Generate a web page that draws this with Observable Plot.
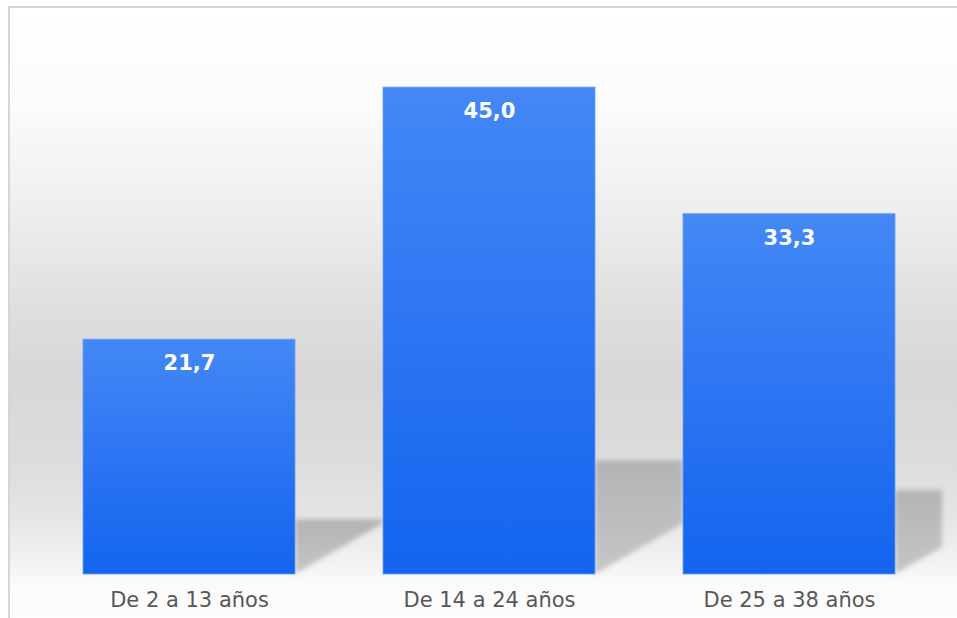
<!DOCTYPE html>
<html>
<head>
<meta charset="utf-8">
<script src="https://cdn.jsdelivr.net/npm/d3@7"></script>
<script src="https://cdn.jsdelivr.net/npm/@observablehq/plot@0.6"></script>
<style>
  html, body { margin: 0; padding: 0; width: 957px; height: 618px; overflow: hidden; background: #ffffff; }
  #frame {
    position: absolute; left: 8px; top: 6px; right: 0; bottom: 0;
    border-top: 2px solid #d6d6d6; border-left: 2px solid #d6d6d6;
    background: linear-gradient(to bottom, #ffffff 0%, #fbfbfb 16%, #efefef 32%, #e0e0e0 48%, #d7d7d7 60%, #dcdcdc 74%, #e4e4e4 83%, #f1f1f1 90%, #fbfbfb 95%, #fdfdfd 100%);
  }
  #chart { position: absolute; left: 0; top: 0; }
  #chart svg { background: transparent; }
</style>
</head>
<body>
<div id="frame"></div>
<div id="chart"></div>
<script>
const categories = ["De 2 a 13 años", "De 14 a 24 años", "De 25 a 38 años"];
const values = [21.7, 45.0, 33.3];
const valueLabels = ["21,7", "45,0", "33,3"];

const data = categories.map((c, i) => ({category: c, value: values[i], label: valueLabels[i]}));

const SVGNS = "http://www.w3.org/2000/svg";
function el(name, attrs) {
  const e = document.createElementNS(SVGNS, name);
  for (const k in attrs) e.setAttribute(k, attrs[k]);
  return e;
}

// gradient / filter definitions
function defsMark() {
  const g = el("g", {});
  const defs = el("defs", {});
  const bar = el("linearGradient", {id: "barGrad", x1: 0, y1: 0, x2: 0, y2: 1});
  bar.appendChild(el("stop", {offset: "0%", "stop-color": "#4488f5"}));
  bar.appendChild(el("stop", {offset: "55%", "stop-color": "#2a73f2"}));
  bar.appendChild(el("stop", {offset: "100%", "stop-color": "#1364ef"}));
  defs.appendChild(bar);
  const sh = el("linearGradient", {id: "shadowGrad", x1: 0, y1: 0, x2: 0, y2: 1});
  sh.appendChild(el("stop", {offset: "0%", "stop-color": "#b3b3b3"}));
  sh.appendChild(el("stop", {offset: "100%", "stop-color": "#c6c6c6"}));
  defs.appendChild(sh);
  const f = el("filter", {id: "shadowBlur", x: "-20%", y: "-20%", width: "140%", height: "140%"});
  f.appendChild(el("feGaussianBlur", {stdDeviation: 2.5}));
  defs.appendChild(f);
  g.appendChild(defs);
  return g;
}

// floor shadows cast to the right of each bar
function shadowMark(index, scales, values_, dimensions) {
  const x = scales.x, y = scales.y;
  const bw = x.bandwidth();
  const step = x.step ? x.step() : bw;
  const gap = step - bw;
  const y0 = y(0);
  const right = dimensions.width - dimensions.marginRight;
  const g = el("g", {filter: "url(#shadowBlur)"});
  data.forEach(d => {
    const xr = x(d.category) + bw;
    const h = y0 - y(d.value);
    const top = y0 - 0.233 * h;
    const xe = Math.min(xr + gap, right);
    const slope = 0.58;
    const yb = y0 - slope * (xe - xr);
    const pts = [[xr, top], [xe, top], [xe, Math.max(yb, top)], [xr, y0]];
    g.appendChild(el("polygon", {points: pts.map(p => p.join(",")).join(" "), fill: "url(#shadowGrad)"}));
  });
  return g;
}

const chart = Plot.plot({
  width: 957,
  height: 618,
  marginTop: 33,
  marginBottom: 44,
  marginLeft: 37,
  marginRight: 15,
  style: {background: "transparent", fontFamily: "DejaVu Sans"},
  x: {domain: categories, paddingInner: 0.292, paddingOuter: 0.15, axis: null},
  y: {domain: [0, 50], axis: null},
  marks: [
    defsMark,
    shadowMark,
    Plot.barY(data, {x: "category", y: "value", fill: "url(#barGrad)", stroke: "#6a9ef5", strokeOpacity: 0.8, strokeWidth: 1, inset: 0}),
    Plot.text(data, {x: "category", y: "value", text: "label", dy: 24, fill: "white", fontSize: 21, fontWeight: "bold", fontFamily: "DejaVu Sans", lineAnchor: "middle"}),
    Plot.axisX({tickSize: 0, tickPadding: 18, fontSize: 21, fill: "#575757", fontFamily: "DejaVu Sans", label: null})
  ]
});
document.getElementById("chart").appendChild(chart);
</script>
</body>
</html>
